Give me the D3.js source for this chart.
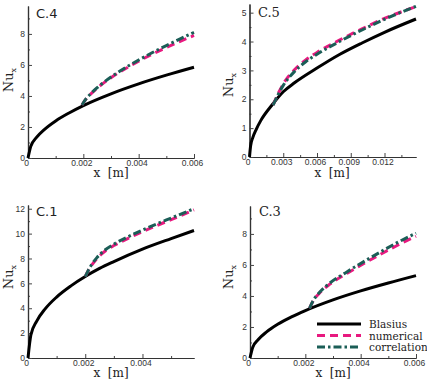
<!DOCTYPE html>
<html>
<head>
<meta charset="utf-8">
<script src="https://cdn.jsdelivr.net/npm/d3@7"></script>
<style>
  body { margin: 0; background: #fff; }
  svg { display: block; }
</style>
</head>
<body>
<svg id="chart"></svg>
<script>
const WIDTH = 427;
const HEIGHT = 379;

// panel names and legend entries
var panelNames = ['C.4', 'C.5', 'C.1', 'C.3'];
var legendLabels = ['Blasius', 'numerical', 'correlation'];

// C.4
var c4BlasiusX = [0, 0.0001, 0.0003, 0.0006, 0.001, 0.0015, 0.002, 0.003, 0.004, 0.005, 0.006];
var c4Blasius  = [0, 0.75, 1.31, 1.85, 2.39, 2.92, 3.38, 4.14, 4.78, 5.34, 5.85];
var c4TurbX    = [0.00195, 0.0021, 0.0023, 0.0025, 0.003, 0.0035, 0.004, 0.0045, 0.005, 0.0055, 0.006];
var c4Numerical   = [3.42, 3.81, 4.18, 4.5, 5.18, 5.74, 6.24, 6.7, 7.12, 7.52, 7.9];
var c4Correlation = [3.42, 3.82, 4.2, 4.53, 5.22, 5.8, 6.32, 6.8, 7.25, 7.68, 8.1];

// C.5
var c5BlasiusX = [0, 0.0001, 0.0003, 0.0006, 0.001, 0.002, 0.003, 0.004, 0.006, 0.008, 0.010, 0.012, 0.0148];
var c5Blasius  = [0, 0.39, 0.68, 0.96, 1.26, 1.8, 2.26, 2.57, 3.08, 3.55, 3.95, 4.32, 4.78];
var c5TurbX    = [0.0021, 0.0025, 0.003, 0.004, 0.005, 0.006, 0.008, 0.010, 0.012, 0.0148];
var c5Numerical   = [1.8, 2.16, 2.53, 3.02, 3.36, 3.62, 4.05, 4.44, 4.8, 5.21];
var c5Correlation = [1.8, 2.13, 2.48, 2.96, 3.3, 3.56, 4.0, 4.4, 4.77, 5.22];

// C.1
var c1BlasiusX = [0, 0.0001, 0.0003, 0.0006, 0.001, 0.0015, 0.002, 0.0025, 0.003, 0.004, 0.005, 0.0058];
var c1Blasius  = [0, 1.85, 2.95, 3.95, 4.9, 5.8, 6.55, 7.2, 7.75, 8.75, 9.6, 10.25];
var c1TurbX    = [0.002, 0.0021, 0.0022, 0.0024, 0.0027, 0.003, 0.0035, 0.004, 0.0045, 0.005, 0.0058];
var c1Numerical   = [6.55, 7.0, 7.38, 7.98, 8.6, 9.04, 9.62, 10.15, 10.65, 11.12, 11.9];
var c1Correlation = [6.55, 7.02, 7.42, 8.05, 8.7, 9.15, 9.75, 10.28, 10.78, 11.25, 12.0];

// C.3
var c3BlasiusX = [0, 0.0001, 0.0003, 0.0006, 0.001, 0.0015, 0.002, 0.003, 0.004, 0.005, 0.006];
var c3Blasius  = [0, 0.69, 1.19, 1.68, 2.17, 2.65, 3.06, 3.75, 4.33, 4.84, 5.31];
var c3TurbX    = [0.00215, 0.0023, 0.0025, 0.0029, 0.0035, 0.0041, 0.0047, 0.0053, 0.006];
var c3Numerical   = [3.2, 3.73, 4.16, 4.78, 5.45, 6.08, 6.67, 7.24, 7.85];
var c3Correlation = [3.2, 3.75, 4.2, 4.85, 5.55, 6.2, 6.82, 7.42, 8.05];

// tick values
var xTicks6 = [0, 0.002, 0.004, 0.006];
var xMinor6 = [0.001, 0.003, 0.005];
var xTicksC5 = [0, 0.003, 0.006, 0.009, 0.012];
var xMinorC5 = [0.0015, 0.0045, 0.0075, 0.0105, 0.0135];
var xTicksC1 = [0, 0.002, 0.004];
var xMinorC1 = [0.001, 0.003, 0.005];
var yTicks8 = [0, 2, 4, 6, 8];
var yMinor8 = [1, 3, 5, 7, 9];
var yTicks5 = [0, 1, 2, 3, 4, 5];
var yMinor5 = [0.5, 1.5, 2.5, 3.5, 4.5];
var yTicks12 = [0, 2, 4, 6, 8, 10, 12];
var yMinor12 = [1, 3, 5, 7, 9, 11];

var COLORS = { blasius: '#000000', numerical: '#e8197f', correlation: '#1b5e57' };
var DASHES = { blasius: null, numerical: '8,5', correlation: '8,3,2.5,3' };
var SERIF = "'DejaVu Serif', serif";
var SANS = "'DejaVu Sans', sans-serif";

function pts(xs, ys) {
    return xs.map(function(x, i) { return { x: x, y: ys[i] }; });
}

var panels = [
    { name: panelNames[0], left: 28, right: 194, top: 6, bottom: 158, xMax: 0.006, yMax: 9.8,
      xTicks: xTicks6, xMinor: xMinor6, yTicks: yTicks8, yMinor: yMinor8,
      blasius: pts(c4BlasiusX, c4Blasius), numerical: pts(c4TurbX, c4Numerical), correlation: pts(c4TurbX, c4Correlation),
      labelFont: SANS, labelX: 36, labelY: 18, nuX: 13, nuY: 80, xlabX: 111, xlabY: 177 },
    { name: panelNames[1], left: 249.5, right: 416, top: 4, bottom: 157, xMax: 0.0148, yMax: 5.3,
      xTicks: xTicksC5, xMinor: xMinorC5, yTicks: yTicks5, yMinor: yMinor5,
      blasius: pts(c5BlasiusX, c5Blasius), numerical: pts(c5TurbX, c5Numerical), correlation: pts(c5TurbX, c5Correlation),
      labelFont: SERIF, labelX: 258, labelY: 17, nuX: 233, nuY: 85, xlabX: 332, xlabY: 177 },
    { name: panelNames[2], left: 28, right: 194, top: 205, bottom: 358, xMax: 0.0058, yMax: 12.3,
      xTicks: xTicksC1, xMinor: xMinorC1, yTicks: yTicks12, yMinor: yMinor12,
      blasius: pts(c1BlasiusX, c1Blasius), numerical: pts(c1TurbX, c1Numerical), correlation: pts(c1TurbX, c1Correlation),
      labelFont: SANS, labelX: 36, labelY: 216, nuX: 13, nuY: 277, xlabX: 111, xlabY: 377 },
    { name: panelNames[3], left: 250, right: 416, top: 206, bottom: 358, xMax: 0.006, yMax: 9.8,
      xTicks: xTicks6, xMinor: xMinor6, yTicks: yTicks8, yMinor: yMinor8,
      blasius: pts(c3BlasiusX, c3Blasius), numerical: pts(c3TurbX, c3Numerical), correlation: pts(c3TurbX, c3Correlation),
      labelFont: SERIF, labelX: 259, labelY: 216, nuX: 233, nuY: 277, xlabX: 333, xlabY: 377, legend: true }
];

var svg = d3.select('#chart').attr('width', WIDTH).attr('height', HEIGHT);

function fmtTick(d) {
    if (d === 0) return '0';
    return d3.format('.3f')(d);
}

panels.forEach(function(p) {
    var x = d3.scaleLinear().domain([0, p.xMax]).range([p.left, p.right]);
    var y = d3.scaleLinear().domain([0, p.yMax]).range([p.bottom, p.top]);
    var g = svg.append('g');

    // minor ticks (inward)
    g.append('g').attr('transform', 'translate(0,' + p.bottom + ')')
        .call(d3.axisBottom(x).tickValues(p.xMinor).tickSize(-2).tickSizeOuter(0).tickFormat(''));
    g.append('g').attr('transform', 'translate(' + p.left + ',0)')
        .call(d3.axisLeft(y).tickValues(p.yMinor).tickSize(-2).tickSizeOuter(0).tickFormat(''));

    var xAxis = g.append('g').attr('transform', 'translate(0,' + p.bottom + ')')
        .call(d3.axisBottom(x).tickValues(p.xTicks).tickSize(-4).tickSizeOuter(0).tickPadding(0).tickFormat(fmtTick));
    g.append('g').attr('transform', 'translate(' + p.left + ',0)')
        .call(d3.axisLeft(y).tickValues(p.yTicks).tickSize(-4).tickSizeOuter(0).tickPadding(3).tickFormat(d3.format('d')));

    g.selectAll('.domain').attr('stroke', '#333').attr('stroke-width', 1.2);
    g.selectAll('.tick line').attr('stroke', '#444');
    g.selectAll('.tick text')
        .attr('font-family', "'Liberation Sans', Arial, sans-serif")
        .attr('font-size', 8.5)
        .attr('fill', '#333');
    xAxis.selectAll('.tick text').attr('dy', '0.9em').attr('dx', -2);

    var line = d3.line()
        .x(function(d) { return x(d.x); })
        .y(function(d) { return y(d.y); })
        .curve(d3.curveMonotoneX);

    ['blasius', 'numerical', 'correlation'].forEach(function(k) {
        g.append('path').datum(p[k])
            .attr('d', line).attr('fill', 'none')
            .attr('stroke', COLORS[k]).attr('stroke-width', 3)
            .attr('stroke-dasharray', DASHES[k]);
    });

    // panel label
    g.append('text')
        .attr('x', p.labelX).attr('y', p.labelY)
        .attr('font-family', p.labelFont).attr('font-size', 13)
        .attr('fill', '#222')
        .text(p.name);

    // x axis label
    g.append('text')
        .attr('x', p.xlabX).attr('y', p.xlabY)
        .attr('text-anchor', 'middle')
        .attr('font-family', SERIF).attr('font-size', 12)
        .attr('fill', '#222')
        .attr('xml:space', 'preserve')
        .text('x  [m]');

    // y axis label, Nu with subscript x
    var nu = g.append('text')
        .attr('transform', 'translate(' + p.nuX + ',' + p.nuY + ') rotate(-90)')
        .attr('text-anchor', 'middle')
        .attr('font-family', SERIF).attr('font-size', 13)
        .attr('fill', '#222');
    nu.append('tspan').text('Nu');
    nu.append('tspan').attr('font-size', 8).attr('dy', 3).text('x');

    if (p.legend) {
        var keys = ['blasius', 'numerical', 'correlation'];
        var ly = d3.scalePoint().domain(keys).range([324, 347]);
        keys.forEach(function(k, i) {
            var row = g.append('g');
            row.append('line')
                .attr('x1', 317).attr('x2', 361)
                .attr('y1', ly(k)).attr('y2', ly(k))
                .attr('stroke', COLORS[k]).attr('stroke-width', 3)
                .attr('stroke-dasharray', DASHES[k]);
            row.append('text')
                .attr('x', 369).attr('y', ly(k) + 4)
                .attr('font-family', SERIF).attr('font-size', 10.5)
                .attr('fill', '#222')
                .text(legendLabels[i]);
        });
    }
});
</script>
</body>
</html>
